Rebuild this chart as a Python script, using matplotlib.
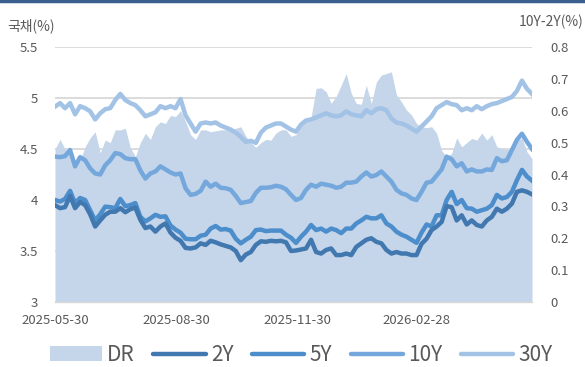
import matplotlib
matplotlib.use("Agg")
import matplotlib.pyplot as plt
import matplotlib.dates as mdates
from matplotlib.patches import Patch
from matplotlib.lines import Line2D
import pandas as pd

plt.rcParams['font.family'] = ['Noto Sans CJK KR', 'DejaVu Sans']

start_date = "2025-05-30"
end_date = "2026-05-27"

y30 = [4.915, 4.95, 4.90, 4.95, 4.84, 4.92, 4.90, 4.87, 4.79, 4.85,
       4.89, 4.90, 4.98, 5.04, 4.98, 4.95, 4.93, 4.88, 4.82, 4.84,
       4.86, 4.92, 4.90, 4.92, 4.90, 4.99, 4.83, 4.75, 4.67, 4.75,
       4.76, 4.75, 4.76, 4.73, 4.71, 4.69, 4.66, 4.62, 4.57, 4.58,
       4.56, 4.66, 4.71, 4.73, 4.75, 4.75, 4.72, 4.69, 4.67, 4.74,
       4.78, 4.79, 4.81, 4.83, 4.85, 4.83, 4.82, 4.83, 4.87, 4.84,
       4.83, 4.82, 4.88, 4.85, 4.89, 4.90, 4.88, 4.80, 4.76, 4.75,
       4.73, 4.70, 4.67, 4.72, 4.77, 4.82, 4.90, 4.93, 4.96, 4.94,
       4.93, 4.88, 4.90, 4.88, 4.92, 4.89, 4.92, 4.94, 4.95, 4.97,
       4.99, 5.01, 5.07, 5.17, 5.09, 5.04]

y10 = [4.425, 4.42, 4.43, 4.49, 4.33, 4.42, 4.39, 4.31, 4.26, 4.25,
       4.34, 4.39, 4.46, 4.45, 4.41, 4.40, 4.40, 4.29, 4.21, 4.26,
       4.28, 4.33, 4.30, 4.27, 4.25, 4.26, 4.115, 4.05, 4.06, 4.09,
       4.18, 4.13, 4.16, 4.12, 4.115, 4.10, 4.04, 3.97, 3.98, 3.99,
       4.07, 4.12, 4.12, 4.125, 4.14, 4.13, 4.105, 4.05, 4.00, 4.02,
       4.10, 4.15, 4.13, 4.16, 4.15, 4.14, 4.12, 4.13, 4.17, 4.17,
       4.18, 4.23, 4.27, 4.23, 4.245, 4.28, 4.23, 4.18, 4.10, 4.065,
       4.05, 4.015, 4.00, 4.08, 4.17, 4.18, 4.24, 4.30, 4.425, 4.40,
       4.33, 4.36, 4.28, 4.30, 4.28, 4.28, 4.30, 4.295, 4.41, 4.38,
       4.39, 4.49, 4.59, 4.65, 4.57, 4.50]

y5 = [4.00, 3.985, 4.01, 4.09, 3.97, 4.02, 4.00, 3.90, 3.80, 3.86,
      3.935, 3.93, 3.92, 4.01, 3.94, 3.95, 3.97, 3.835, 3.79, 3.82,
      3.855, 3.835, 3.84, 3.75, 3.71, 3.68, 3.62, 3.615, 3.615, 3.65,
      3.66, 3.72, 3.745, 3.71, 3.715, 3.70, 3.62, 3.575, 3.61, 3.64,
      3.705, 3.71, 3.695, 3.70, 3.70, 3.70, 3.66, 3.63, 3.58, 3.64,
      3.69, 3.755, 3.705, 3.72, 3.69, 3.72, 3.705, 3.675, 3.72, 3.72,
      3.77, 3.80, 3.835, 3.82, 3.82, 3.85, 3.77, 3.74, 3.69, 3.66,
      3.64, 3.61, 3.58, 3.68, 3.76, 3.74, 3.85, 3.85, 4.00, 4.08,
      3.96, 4.00, 3.92, 3.915, 3.885, 3.90, 3.915, 3.95, 4.05, 4.015,
      4.03, 4.08, 4.195, 4.295, 4.23, 4.19]

y2 = [3.95, 3.92, 3.93, 4.04, 3.92, 3.98, 3.95, 3.86, 3.74, 3.80,
      3.855, 3.885, 3.885, 3.92, 3.88, 3.91, 3.925, 3.805, 3.725, 3.74,
      3.69, 3.74, 3.77, 3.68, 3.63, 3.60, 3.53, 3.525, 3.535, 3.575,
      3.56, 3.60, 3.585, 3.565, 3.55, 3.535, 3.50, 3.41, 3.465, 3.49,
      3.56, 3.595, 3.59, 3.60, 3.595, 3.60, 3.585, 3.50, 3.505, 3.515,
      3.525, 3.61, 3.49, 3.475, 3.51, 3.525, 3.46, 3.46, 3.475, 3.46,
      3.54, 3.575, 3.61, 3.625, 3.59, 3.575, 3.51, 3.475, 3.49, 3.475,
      3.475, 3.46, 3.46, 3.57, 3.62, 3.705, 3.74, 3.785, 3.94, 3.93,
      3.80, 3.85, 3.76, 3.80, 3.755, 3.74, 3.80, 3.835, 3.915, 3.885,
      3.915, 3.965, 4.08, 4.095, 4.08, 4.055]

dr = [0.48, 0.51, 0.48, 0.465, 0.44, 0.445, 0.487, 0.515, 0.534, 0.468,
      0.508, 0.50, 0.54, 0.54, 0.545, 0.485, 0.456, 0.50, 0.529, 0.51,
      0.55, 0.565, 0.56, 0.585, 0.582, 0.60, 0.566, 0.525, 0.51, 0.54,
      0.54, 0.534, 0.537, 0.54, 0.54, 0.54, 0.545, 0.55, 0.52, 0.50,
      0.485, 0.50, 0.51, 0.508, 0.53, 0.54, 0.54, 0.52, 0.525, 0.555,
      0.575, 0.58, 0.67, 0.672, 0.66, 0.623, 0.645, 0.68, 0.717, 0.655,
      0.623, 0.62, 0.68, 0.623, 0.69, 0.712, 0.717, 0.722, 0.65, 0.628,
      0.602, 0.587, 0.56, 0.55, 0.547, 0.55, 0.53, 0.475, 0.456, 0.466,
      0.515, 0.487, 0.50, 0.513, 0.508, 0.53, 0.508, 0.525, 0.487, 0.482,
      0.478, 0.48, 0.505, 0.515, 0.471, 0.45]

tick_dates = ["2025-05-30", "2025-08-30", "2025-11-30", "2026-02-28"]
left_ticks = [3, 3.5, 4, 4.5, 5, 5.5]
left_labels = ["3", "3.5", "4", "4.5", "5", "5.5"]
right_ticks = [0, 0.1, 0.2, 0.3, 0.4, 0.5, 0.6, 0.7, 0.8]
right_labels = ["0", "0.1", "0.2", "0.3", "0.4", "0.5", "0.6", "0.7", "0.8"]

dates = pd.date_range(start_date, end_date, periods=len(y2))

c2, c5, c10, c30 = "#4178B0", "#4C8DCB", "#74A8DC", "#A2C2E6"
c_dr = "#C5D5EA"
txt = "#595959"
grid_c = "#D9D9D9"

W, H = 585, 367
fig = plt.figure(figsize=(W / 100, H / 100), dpi=100)
rect = [55 / W, 1 - 302 / H, (532 - 55) / W, (302 - 47) / H]

# background grid
gax = fig.add_axes(rect, zorder=0)
gax.set_ylim(3, 5.5)
gax.set_xlim(dates[0], dates[-1])
gax.set_yticks(left_ticks)
gax.grid(axis="y", color=grid_c, lw=1.3)
gax.set_xticks([])
gax.tick_params(left=False, labelleft=False)
for s in gax.spines.values():
    s.set_visible(False)

# spread area (right axis)
ax2 = fig.add_axes(rect, zorder=1)
ax2.patch.set_visible(False)
ax2.fill_between(dates, 0, dr, color=c_dr, lw=0)
ax2.set_ylim(0, 0.8)
ax2.set_xlim(dates[0], dates[-1])
ax2.yaxis.tick_right()
ax2.set_yticks(right_ticks)
ax2.set_yticklabels(right_labels)
ax2.tick_params(axis="y", length=0, pad=13, labelsize=9.5, labelcolor=txt)
ax2.set_xticks([])
for s in ax2.spines.values():
    s.set_visible(False)

# yield lines (left axis)
ax = fig.add_axes(rect, zorder=2)
ax.patch.set_visible(False)
lw = 3.2
ax.plot(dates, y30, color=c30, lw=lw, solid_joinstyle="round")
ax.plot(dates, y10, color=c10, lw=lw, solid_joinstyle="round")
ax.plot(dates, y5, color=c5, lw=lw, solid_joinstyle="round")
ax.plot(dates, y2, color=c2, lw=lw, solid_joinstyle="round")
ax.set_ylim(3, 5.5)
ax.set_xlim(dates[0], dates[-1])
ax.set_yticks(left_ticks)
ax.set_yticklabels(left_labels)
ax.set_xticks(pd.to_datetime(tick_dates))
ax.set_xticklabels(tick_dates)
ax.tick_params(axis="y", length=0, pad=12, labelsize=9.5, labelcolor=txt)
ax.tick_params(axis="x", length=0, pad=9, labelsize=9.5, labelcolor=txt)
for k in ("top", "left", "right"):
    ax.spines[k].set_visible(False)
ax.spines["bottom"].set_color(grid_c)
ax.spines["bottom"].set_linewidth(1.0)

fig.text(7 / W, 1 - 26 / H, "국채(%)", fontsize=10, color=txt, va="center", ha="left")
fig.text(583 / W, 1 - 22 / H, "10Y-2Y(%)", fontsize=10, color=txt, va="center", ha="right")

# top accent bar
fig.add_artist(Line2D([0, 1], [1 - 1 / H, 1 - 1 / H], transform=fig.transFigure,
                      color="#3A5F8F", lw=2.5))

handles = [Patch(facecolor=c_dr, edgecolor="none"),
           Line2D([], [], color=c2, lw=lw, solid_capstyle="round"),
           Line2D([], [], color=c5, lw=lw, solid_capstyle="round"),
           Line2D([], [], color=c10, lw=lw, solid_capstyle="round"),
           Line2D([], [], color=c30, lw=lw, solid_capstyle="round")]
fig.legend(handles, ["DR", "2Y", "5Y", "10Y", "30Y"], loc="center",
           bbox_to_anchor=(301 / W, 1 - 355 / H), ncol=5, frameon=False,
           fontsize=15, labelcolor=txt, handlelength=2.5, handleheight=0.75,
           handletextpad=0.25, columnspacing=0.9, borderaxespad=0)

fig.savefig("out.png", dpi=100)
